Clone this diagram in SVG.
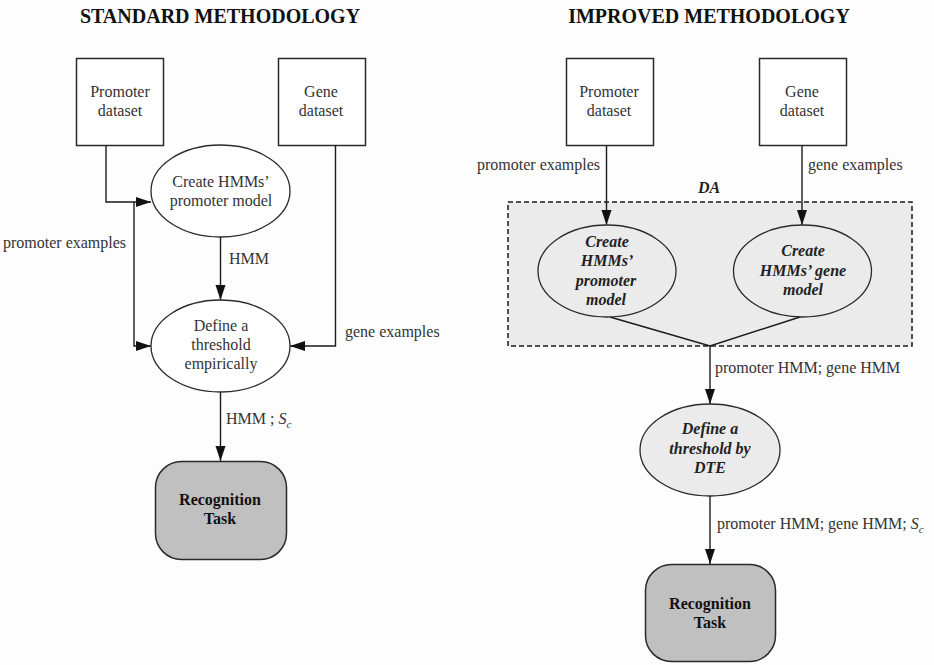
<svg xmlns="http://www.w3.org/2000/svg" width="934" height="665" viewBox="0 0 934 665">
  <style>
    .box { fill: #ffffff; stroke: #2a2a2a; stroke-width: 1.5; }
    .ell { fill: #ffffff; stroke: #2a2a2a; stroke-width: 1.3; }
    .ell-grey { fill: #ebebeb; stroke: #2a2a2a; stroke-width: 1.3; }
    .task { fill: #c0c0c0; stroke: #2a2a2a; stroke-width: 1.5; }
    .da { fill: #ebebeb; stroke: #1a1a1a; stroke-width: 1.5; stroke-dasharray: 5 3; }
    .wire { fill: none; stroke: #1a1a1a; stroke-width: 1.4; }
    .arrow { fill: none; stroke: #1a1a1a; stroke-width: 1.4; marker-end: url(#head); }
    text { font-family: "Liberation Serif", "Times New Roman", serif; font-size: 16px; fill: #333333; }
    .c { text-anchor: middle; }
    .title { font-size: 20px; font-weight: bold; fill: #111111; text-anchor: middle; }
    .bi { font-weight: bold; font-style: italic; fill: #222222; }
    .b { font-weight: bold; fill: #111111; }
    .it { font-style: italic; }
    .sub { font-style: italic; font-size: 11px; }
  </style>
  <defs>
    <marker id="head" markerUnits="userSpaceOnUse" markerWidth="16" markerHeight="11" refX="15" refY="5" orient="auto">
      <path d="M0,0 L15,5 L0,10 z" fill="#111111"/>
    </marker>
  </defs>

  <rect x="0" y="0" width="934" height="665" fill="#fdfdfd"/>

  <!-- headings -->
  <text class="title" x="220" y="23">STANDARD METHODOLOGY</text>
  <text class="title" x="709" y="23">IMPROVED METHODOLOGY</text>

  <!-- grouping frame of the improved pipeline -->
  <g id="da-frame">
    <rect class="da" x="508" y="202" width="404" height="144"/>
    <text class="bi c" x="709" y="193">DA</text>
  </g>

  <!-- connectors -->
  <g id="connectors">
    <!-- standard -->
    <path class="arrow" d="M106,145 V202 H151"/>
    <path class="arrow" d="M134,202 V346 H151"/>
    <path class="arrow" d="M220.5,237 V300"/>
    <path class="arrow" d="M335.5,145 V346 H290"/>
    <path class="arrow" d="M220.5,392 V461"/>
    <!-- improved -->
    <path class="arrow" d="M606.5,145 V225"/>
    <path class="arrow" d="M802,145 V225"/>
    <path class="wire" d="M610,317 L710,346 L800,317"/>
    <path class="arrow" d="M710,346 V404"/>
    <path class="arrow" d="M710,496 V564"/>
  </g>

  <!-- connector labels -->
  <g id="labels">
    <text x="3" y="248">promoter examples</text>
    <text x="229" y="264">HMM</text>
    <text x="345" y="337">gene examples</text>
    <text x="226" y="424">HMM ; <tspan class="it">S</tspan><tspan class="sub" dy="4">c</tspan></text>
    <text x="477" y="170">promoter examples</text>
    <text x="808" y="170">gene examples</text>
    <text x="715" y="373">promoter HMM; gene HMM</text>
    <text x="717" y="529">promoter HMM; gene HMM; <tspan class="it">S</tspan><tspan class="sub" dy="4">c</tspan></text>
  </g>

  <!-- standard methodology nodes -->
  <g id="std-promoter-dataset">
    <rect class="box" x="76.5" y="58.5" width="87" height="87"/>
    <text class="c" x="120" y="97">Promoter</text>
    <text class="c" x="120" y="116">dataset</text>
  </g>
  <g id="std-gene-dataset">
    <rect class="box" x="278.5" y="58.5" width="87" height="87"/>
    <text class="c" x="321" y="97">Gene</text>
    <text class="c" x="321" y="116">dataset</text>
  </g>
  <g id="std-create-model">
    <ellipse class="ell" cx="220.5" cy="191" rx="69.5" ry="46"/>
    <text class="c" x="221" y="187">Create HMMs’</text>
    <text class="c" x="221" y="206">promoter model</text>
  </g>
  <g id="std-threshold">
    <ellipse class="ell" cx="220.5" cy="346" rx="69.5" ry="46"/>
    <text class="c" x="221" y="331">Define a</text>
    <text class="c" x="221" y="350">threshold</text>
    <text class="c" x="221" y="369">empirically</text>
  </g>
  <g id="std-recognition">
    <rect class="task" x="155.5" y="461.5" width="131" height="98" rx="26" ry="26"/>
    <text class="b c" x="220" y="505">Recognition</text>
    <text class="b c" x="220" y="524">Task</text>
  </g>

  <!-- improved methodology nodes -->
  <g id="imp-promoter-dataset">
    <rect class="box" x="566.5" y="58.5" width="87" height="87"/>
    <text class="c" x="609" y="97">Promoter</text>
    <text class="c" x="609" y="116">dataset</text>
  </g>
  <g id="imp-gene-dataset">
    <rect class="box" x="759.5" y="58.5" width="87" height="87"/>
    <text class="c" x="802" y="97">Gene</text>
    <text class="c" x="802" y="116">dataset</text>
  </g>
  <g id="imp-create-promoter">
    <ellipse class="ell-grey" cx="607" cy="271" rx="69" ry="46"/>
    <text class="bi c" x="607" y="247">Create</text>
    <text class="bi c" x="607" y="266">HMMs’</text>
    <text class="bi c" x="606" y="286">promoter</text>
    <text class="bi c" x="606" y="305">model</text>
  </g>
  <g id="imp-create-gene">
    <ellipse class="ell-grey" cx="802.5" cy="271" rx="69" ry="46"/>
    <text class="bi c" x="803" y="256">Create</text>
    <text class="bi c" x="803" y="276">HMMs’ gene</text>
    <text class="bi c" x="803" y="295">model</text>
  </g>
  <g id="imp-threshold">
    <ellipse class="ell-grey" cx="710" cy="450" rx="70" ry="46"/>
    <text class="bi c" x="710" y="434">Define a</text>
    <text class="bi c" x="710" y="454">threshold by</text>
    <text class="bi c" x="710" y="473">DTE</text>
  </g>
  <g id="imp-recognition">
    <rect class="task" x="645.5" y="564.5" width="130" height="97" rx="26" ry="26"/>
    <text class="b c" x="710" y="609">Recognition</text>
    <text class="b c" x="710" y="628">Task</text>
  </g>
</svg>
